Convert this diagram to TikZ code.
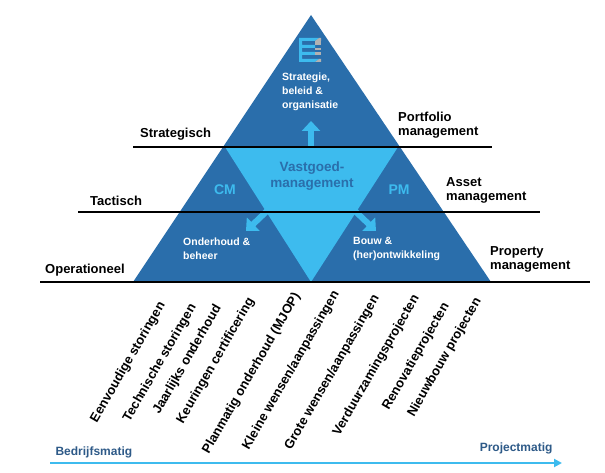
\documentclass[tikz,border=0pt]{standalone}
\usepackage{fontspec}
\setmainfont{Liberation Sans}
\usetikzlibrary{arrows.meta}
\definecolor{dk}{HTML}{2A6EAB}
\definecolor{lt}{HTML}{3DBBEE}
\definecolor{tx}{HTML}{2E5A88}
\begin{document}
\begin{tikzpicture}[x=1pt,y=-1pt,
 lbl/.style={font=\bfseries\fontsize{13}{14}\selectfont,text=black,inner sep=0},
 wl/.style={font=\bfseries\fontsize{10.5}{14}\selectfont,text=white,align=left,inner sep=0},
 rl/.style={font=\bfseries\fontsize{13}{14}\selectfont,rotate=60,anchor=north east,inner sep=0},
 ln/.style={line width=1.1pt,black},
 barr/.style={lt,line width=6pt,-{Triangle[length=10pt,width=18pt]}}]
\useasboundingbox (0,0) rectangle (605,473);
\fill[white] (0,0) rectangle (605,473);
\fill[dk] (311,15) -- (491,282) -- (133,282) -- cycle;
\fill[lt] (225,147) -- (398,147) -- (311,282) -- cycle;
% icon
\begin{scope}[shift={(311,50)}]
\fill[lt] (-12,-12) -- (8,-12) -- (4,-9) -- (-9,-9) -- (-9,-5) -- (4,-5) -- (4,-2) -- (-9,-2) -- (-9,2) -- (4,2) -- (4,5) -- (-9,5) -- (-9,9) -- (8,9) -- (4,12) -- (-12,12) -- cycle;
\fill[gray!60] (4,-9) -- (10,-9) -- (10,-5) -- (4,-5) -- cycle;
\fill[gray!60] (4,2) -- (10,2) -- (10,5) -- (4,5) -- cycle;
\fill[gray!60] (4,-2) -- (10,-2) -- (10,-0) -- (4,0) -- cycle;
\fill[gray!60] (8,9) -- (10,9) -- (10,12) -- (4,12) -- cycle;
\fill[gray!60] (8,-12) -- (10,-12) -- (10,-9) -- (4,-9) -- cycle;
\end{scope}
\node[wl,anchor=north west] (sbo) at (282,73) {Strategie,\\beleid \&\\organisatie};
\node[font=\bfseries\fontsize{13.5}{16}\selectfont,text=dk,align=center] (vg) at (312,176) {Vastgoed-\\management};
\node[font=\bfseries\fontsize{14}{16}\selectfont,text=lt] (cm) at (225,190) {CM};
\node[font=\bfseries\fontsize{14}{16}\selectfont,text=lt] (pm) at (399,190) {PM};
\node[wl,anchor=north west] (ob) at (183,238) {Onderhoud \&\\beheer};
\node[wl,anchor=north west] (bo) at (353,237) {Bouw \&\\(her)ontwikkeling};
\coordinate (a0) at (311,146); \coordinate (a1) at (311,121);
\coordinate (b0) at (267,211); \coordinate (b1) at (246,231);
\coordinate (c0) at (355,211); \coordinate (c1) at (376,231);
\draw[barr] (a0) -- (a1);
\draw[barr] (b0) -- (b1);
\draw[barr] (c0) -- (c1);
% lines
\coordinate (s0) at (133,147); \coordinate (s1) at (492,147);
\coordinate (t0) at (78,212); \coordinate (t1) at (540,212);
\coordinate (o0) at (40,282); \coordinate (o1) at (590,282);
\draw[ln] (s0) -- (s1);
\draw[ln] (t0) -- (t1);
\draw[ln] (o0) -- (o1);
\node[lbl,anchor=west] (st) at (140,134) {Strategisch};
\node[lbl,anchor=west] (ta) at (90,201) {Tactisch};
\node[lbl,anchor=west] (op) at (45,270) {Operationeel};
\node[lbl,anchor=west,align=left] (pf) at (398,125) {Portfolio\\management};
\node[lbl,anchor=west,align=left] (as) at (446,190) {Asset\\management};
\node[lbl,anchor=west,align=left] (pr) at (490,259) {Property\\management};
% rotated
\node[rl] (r1) at (157,300) {Eenvoudige storingen};
\node[rl] (r2) at (188,302) {Technische storingen};
\node[rl] (r3) at (213,303) {Jaarlijks onderhoud};
\node[rl] (r4) at (246,296) {Keuringen certificering};
\node[rl] (r5) at (292,291) {Planmatig onderhoud (MJOP)};
\node[rl] (r6) at (331,289) {Kleine wensen/aanpassingen};
\node[rl] (r7) at (371,293) {Grote wensen/aanpassingen};
\node[rl] (r8) at (411,293) {Verduurzamingsprojecten};
\node[rl] (r9) at (441,301) {Renovatieprojecten};
\node[rl] (r10) at (473,296) {Nieuwbouw projecten};
% bottom arrow
\coordinate (x0) at (50,463); \coordinate (x1) at (562,463);
\draw[lt,line width=2.5pt,-{Triangle[length=8pt,width=8pt]}] (x0) -- (x1);
\node[font=\bfseries\fontsize{12}{14}\selectfont,text=tx,anchor=west] (bm) at (52,452) {Bedrijfsmatig};
\node[font=\bfseries\fontsize{12}{14}\selectfont,text=tx,anchor=east] (pmt) at (556,448) {Projectmatig};
\end{tikzpicture}
\end{document}
